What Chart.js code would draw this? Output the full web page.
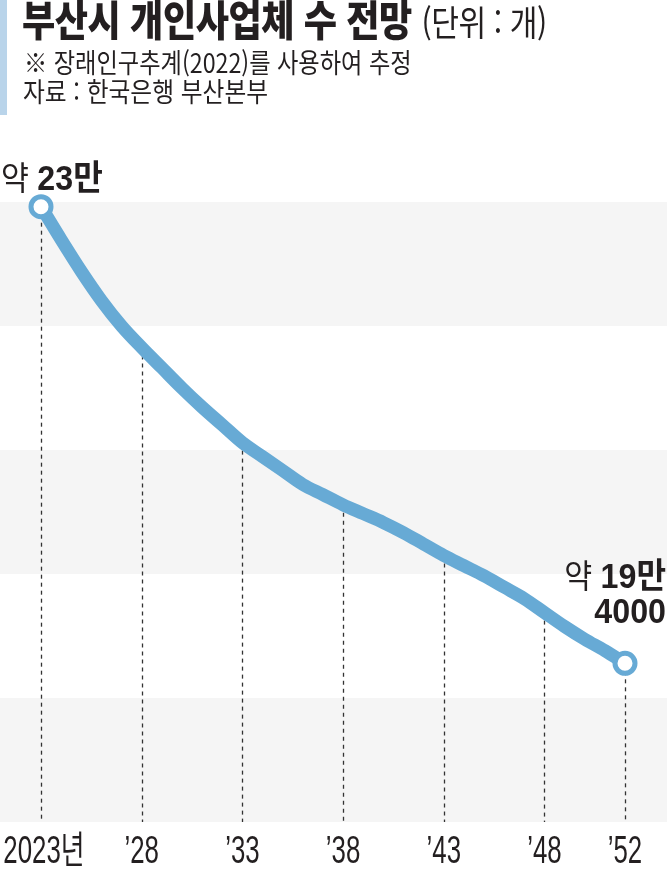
<!DOCTYPE html>
<html lang="ko">
<head>
<meta charset="utf-8">
<script src="https://cdn.jsdelivr.net/npm/chart.js@4.4.1/dist/chart.umd.min.js"></script>
<style>
  html, body { margin: 0; padding: 0; background: #fff; }
  body { width: 667px; height: 869px; position: relative; overflow: hidden; font-family: 'Noto Sans CJK KR', sans-serif; }
  #bar { position: absolute; left: 0; top: 0; width: 7px; height: 115px; background: #b9d4ea; }
  .t { position: absolute; white-space: nowrap; transform-origin: left top; color: #231f20; }
  #title { left: 22px; top: -7px; font-size: 42px; font-weight: 900; line-height: 1.2; transform: scaleX(0.86); letter-spacing: -0.5px; }
  #title span { font-weight: 400; font-size: 35px; }
  #sub1 { left: 24px; top: 46px; font-size: 27px; line-height: 1.2; transform: scaleX(0.86); }
  #sub2 { left: 23px; top: 75px; font-size: 27px; line-height: 1.2; transform: scaleX(0.88); }
  #c { position: absolute; left: 0; top: 0; }
</style>
</head>
<body>
<canvas id="c" width="667" height="869"></canvas>
<div id="bar"></div>
<div id="title" class="t">부산시 개인사업체 수 전망 <span>(단위 : 개)</span></div>
<div id="sub1" class="t">※ 장래인구추계(2022)를 사용하여 추정</div>
<div id="sub2" class="t">자료 : 한국은행 부산본부</div>
<script>
// ---- data ----
const years = [2023, 2024, 2025, 2026, 2027, 2028, 2029, 2030, 2031, 2032,
               2033, 2034, 2035, 2036, 2037, 2038, 2039, 2040, 2041, 2042,
               2043, 2044, 2045, 2046, 2047, 2048, 2049, 2050, 2051, 2052];
const businessCounts = [230000, 227400, 224900, 222600, 220600, 218900, 217300, 215700, 214200, 212800,
                        211400, 210300, 209200, 208100, 207300, 206500, 205800, 205100, 204300, 203400,
                        202500, 201700, 200900, 200000, 199100, 198000, 196900, 195900, 195000, 194000];
const tickYears = [2023, 2028, 2033, 2038, 2043, 2048, 2052];
const tickLabels = ['2023년', '\u201928', '\u201933', '\u201938', '\u201943', '\u201948', '\u201952'];
const startNote = ['약 ', '23만'];
const endNote = [['약 ', '19만'], ['', '4000']];

// ---- style ----
const LINE_COLOR = '#67aad5';
const BAND_COLOR = '#f5f5f5';
const TEXT_COLOR = '#231f20';
const Y_MIN = 181490, Y_MAX = 230370;

const points = years.map((yr, i) => ({ x: yr, y: businessCounts[i] }));

const bandsPlugin = {
  id: 'bands',
  beforeDraw(chart) {
    const { ctx, chartArea } = chart;
    ctx.save();
    ctx.fillStyle = '#fff';
    ctx.fillRect(0, 0, chart.width, chart.height);
    const n = 5;
    const h = (chartArea.bottom - chartArea.top) / n;
    ctx.fillStyle = BAND_COLOR;
    for (let i = 0; i < n; i += 2) {
      ctx.fillRect(0, chartArea.top + i * h, chart.width, h);
    }
    ctx.restore();
  }
};

const dropLinesPlugin = {
  id: 'dropLines',
  beforeDatasetsDraw(chart) {
    const { ctx, chartArea, scales } = chart;
    ctx.save();
    ctx.strokeStyle = '#333';
    ctx.lineWidth = 1.3;
    ctx.setLineDash([4, 4]);
    tickYears.forEach(yr => {
      const i = years.indexOf(yr);
      const x = Math.round(scales.x.getPixelForValue(yr)) + 0.5;
      const y = scales.y.getPixelForValue(businessCounts[i]);
      ctx.beginPath();
      ctx.moveTo(x, y);
      ctx.lineTo(x, chartArea.bottom);
      ctx.stroke();
    });
    ctx.restore();
  }
};

// condensed tick labels, positioned by the x scale's own ticks
const condensedTicksPlugin = {
  id: 'condensedTicks',
  afterDraw(chart) {
    const { ctx, chartArea, scales } = chart;
    const xs = scales.x;
    ctx.save();
    ctx.fillStyle = TEXT_COLOR;
    ctx.font = "400 38px 'Liberation Sans', 'Noto Sans CJK KR', sans-serif";
    ctx.textAlign = 'center';
    ctx.textBaseline = 'alphabetic';
    const sx = 0.68;
    xs.ticks.forEach(t => {
      const label = tickLabels[tickYears.indexOf(t.value)];
      const x = xs.getPixelForValue(t.value);
      ctx.save();
      ctx.translate(x + (t.value === tickYears[0] ? 3 : 0), chartArea.bottom + 41);
      ctx.scale(sx, 1);
      ctx.fillText(label, 0, 0);
      ctx.restore();
    });
    ctx.restore();
  }
};

function drawMixed(ctx, parts, x, y, align) {
  const regular = "400 33px 'Liberation Sans', 'Noto Sans CJK KR', sans-serif";
  const bold = "700 35px 'Liberation Sans', 'Noto Sans CJK KR', sans-serif";
  const k = 0.92;
  ctx.font = regular; const w1 = ctx.measureText(parts[0]).width * k;
  ctx.font = bold; const w2 = ctx.measureText(parts[1]).width * k;
  const sx = align === 'right' ? x - (w1 + w2) : x;
  ctx.textAlign = 'left';
  ctx.textBaseline = 'alphabetic';
  ctx.save();
  ctx.translate(sx, y);
  ctx.scale(k, 1);
  ctx.font = regular; ctx.fillText(parts[0], 0, 0);
  ctx.font = bold; ctx.fillText(parts[1], w1 / k, 0);
  ctx.restore();
}

const notesPlugin = {
  id: 'notes',
  afterDatasetsDraw(chart) {
    const { ctx, scales } = chart;
    ctx.save();
    ctx.fillStyle = TEXT_COLOR;
    const i0 = 0, i1 = years.length - 1;
    const x0 = scales.x.getPixelForValue(years[i0]);
    const y0 = scales.y.getPixelForValue(businessCounts[i0]);
    drawMixed(ctx, startNote, x0 - 40, y0 - 17, 'left');
    const x1 = scales.x.getPixelForValue(years[i1]);
    const y1 = scales.y.getPixelForValue(businessCounts[i1]);
    drawMixed(ctx, endNote[0], x1 + 41, y1 - 75, 'right');
    drawMixed(ctx, endNote[1], x1 + 41, y1 - 40, 'right');
    ctx.restore();
  }
};

new Chart(document.getElementById('c'), {
  type: 'line',
  data: {
    datasets: [{
      data: points,
      borderColor: LINE_COLOR,
      borderWidth: 13,
      tension: 0.35,
      cubicInterpolationMode: 'monotone',
      fill: false,
      clip: false,
      borderCapStyle: 'round',
      borderJoinStyle: 'round',
      pointRadius: ctx => (ctx.dataIndex === 0 || ctx.dataIndex === years.length - 1) ? 10 : 0,
      pointBorderWidth: 5,
      pointBackgroundColor: '#fff',
      pointBorderColor: LINE_COLOR,
      pointHoverRadius: 0
    }]
  },
  options: {
    responsive: false,
    animation: false,
    devicePixelRatio: 1,
    layout: { padding: { top: 202, left: 41, right: 42, bottom: 47 } },
    plugins: { legend: { display: false }, tooltip: { enabled: false }, title: { display: false } },
    scales: {
      x: {
        type: 'linear',
        min: years[0],
        max: years[years.length - 1],
        grid: { display: false, drawTicks: false },
        border: { display: false },
        afterBuildTicks: scale => { scale.ticks = tickYears.map(v => ({ value: v })); },
        afterFit: scale => { scale.paddingLeft = 0; scale.paddingRight = 0; scale.height = 0; },
        ticks: {
          display: false,
          autoSkip: false,
          maxRotation: 0,
          callback: v => tickLabels[tickYears.indexOf(v)]
        }
      },
      y: {
        display: false,
        min: Y_MIN,
        max: Y_MAX
      }
    }
  },
  plugins: [bandsPlugin, dropLinesPlugin, condensedTicksPlugin, notesPlugin]
});
</script>
</body>
</html>
